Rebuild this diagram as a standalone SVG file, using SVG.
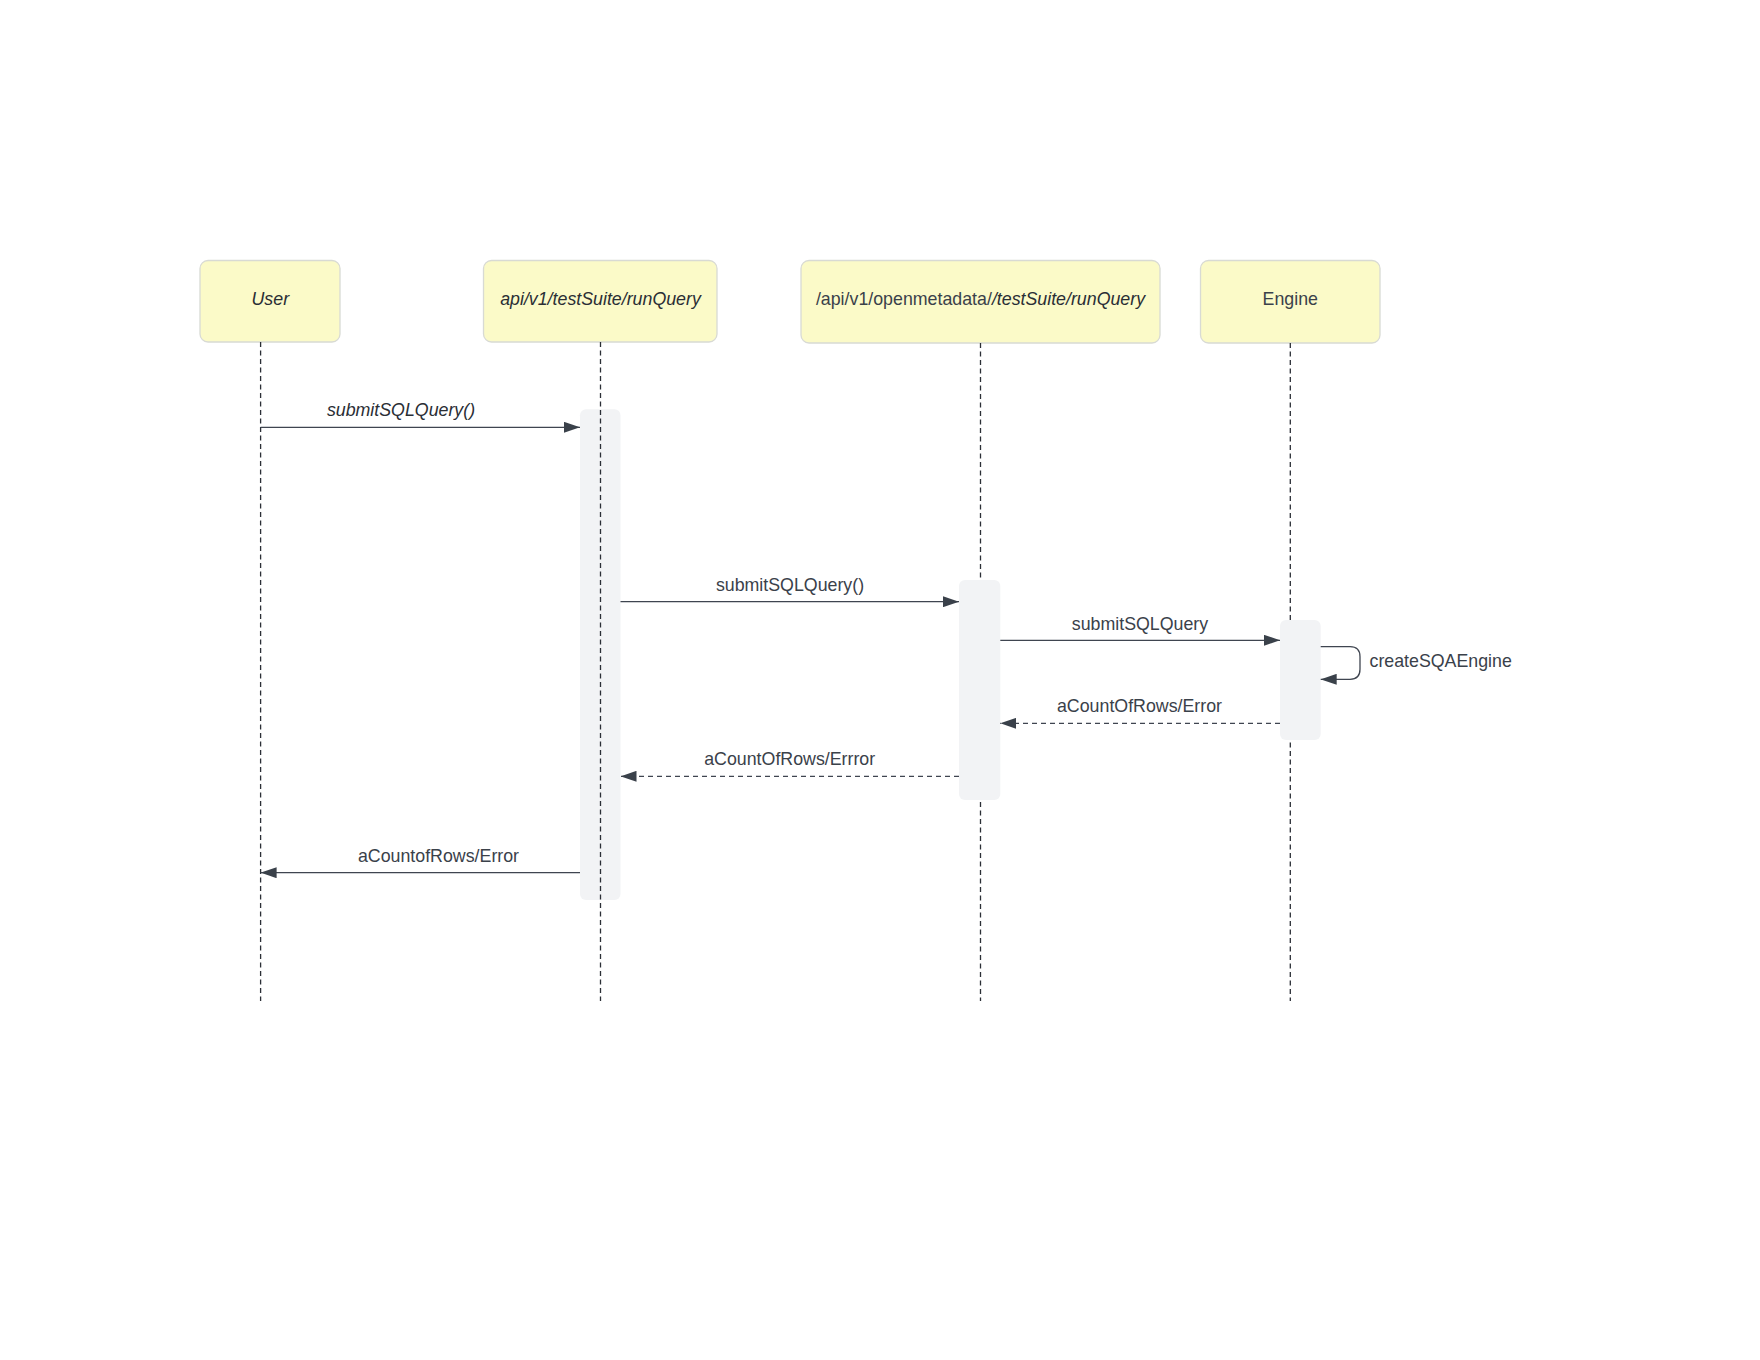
<svg xmlns="http://www.w3.org/2000/svg" width="1760" height="1360" viewBox="0 0 1760 1360">
<style>
.box{fill:#fbfac8;stroke:#d8dad4;stroke-width:1.3}
.bar{fill:#f2f3f5;stroke:none}
.life{stroke:#2b2f36;stroke-width:1.3;stroke-dasharray:5 3.5;fill:none}
.msg{stroke:#3f4550;stroke-width:1.3;fill:none}
.ret{stroke:#3f4550;stroke-width:1.3;fill:none;stroke-dasharray:5 4}
.t{font-family:"Liberation Sans",Arial,sans-serif;font-size:17.8px;fill:#3a414a}
.i{font-style:italic;fill:#2a2e35}
.c{text-anchor:middle}
</style>
<defs>
<marker id="ah" markerUnits="userSpaceOnUse" viewBox="0 0 16 11" refX="16" refY="5.5" markerWidth="16" markerHeight="11" orient="auto">
<path d="M0,0 L16,5.5 L0,11 Z" fill="#3a414a"/>
</marker>
</defs>
<rect width="1760" height="1360" fill="#ffffff"/>
<g id="node-user">
<rect class="box" x="200" y="260.5" width="140" height="81.5" rx="8"/>
<text class="t i c" x="270.3" y="304.5">User</text>
</g>
<g id="node-api">
<rect class="box" x="483.5" y="260.5" width="233.5" height="81.5" rx="8"/>
<text class="t i c" x="600.5" y="304.5">api/v1/testSuite/runQuery</text>
</g>
<g id="node-openmetadata">
<rect class="box" x="801" y="260.5" width="359" height="82.5" rx="8"/>
<text class="t c" x="980.5" y="304.5">/api/v1/openmetadata/<tspan class="i">/testSuite/runQuery</tspan></text>
</g>
<g id="node-engine">
<rect class="box" x="1200.5" y="260.5" width="179.5" height="82.5" rx="8"/>
<text class="t c" x="1290.3" y="304.5">Engine</text>
</g>
<g id="activation-api">
<rect class="bar" x="580" y="409.3" width="40.5" height="490.7" rx="6"/>
</g>
<g id="lifelines">
<line class="life" x1="260.6" y1="342" x2="260.6" y2="1001"/>
<line class="life" x1="600.5" y1="342" x2="600.5" y2="1001"/>
<line class="life" x1="980.5" y1="343" x2="980.5" y2="1001"/>
<line class="life" x1="1290.3" y1="343" x2="1290.3" y2="1001"/>
</g>
<g id="activation-openmetadata">
<rect class="bar" x="959" y="580" width="41.3" height="220" rx="6"/>
</g>
<g id="activation-engine">
<rect class="bar" x="1280" y="620" width="40.7" height="120" rx="6"/>
</g>
<g id="connectors">
<path class="msg" d="M260.6 427.3 H580" marker-end="url(#ah)"/>
<path class="msg" d="M620.5 601.7 H959" marker-end="url(#ah)"/>
<path class="msg" d="M1000.3 640.3 H1280" marker-end="url(#ah)"/>
<path class="msg" d="M1320.7 646.7 H1350 Q1360 646.7 1360 656.7 V669.3 Q1360 679.3 1350 679.3 H1320.7" marker-end="url(#ah)"/>
<path class="ret" d="M1280 723.3 H1000.3" marker-end="url(#ah)"/>
<path class="ret" d="M959 776.3 H620.5" marker-end="url(#ah)"/>
<path class="msg" d="M580 872.7 H260.6" marker-end="url(#ah)"/>
</g>
<g id="labels">
<text class="t i c" x="401" y="416">submitSQLQuery()</text>
<text class="t c" x="790" y="591">submitSQLQuery()</text>
<text class="t c" x="1140" y="629.5">submitSQLQuery</text>
<text class="t" x="1369.5" y="666.5">createSQAEngine</text>
<text class="t c" x="1139.5" y="712">aCountOfRows/Error</text>
<text class="t c" x="789.7" y="765">aCountOfRows/Errror</text>
<text class="t c" x="438.5" y="861.7">aCountofRows/Error</text>
</g>
</svg>
